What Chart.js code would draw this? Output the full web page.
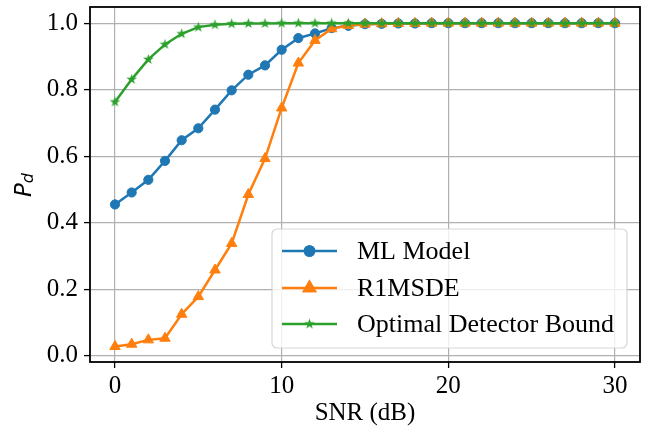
<!DOCTYPE html>
<html>
<head>
<meta charset="utf-8">
<script src="https://cdn.jsdelivr.net/npm/chart.js@4.4.1/dist/chart.umd.min.js"></script>
<style>
  html, body { margin: 0; padding: 0; background: #fff; }
</style>
</head>
<body>
<canvas id="pdChart" width="654" height="432"></canvas>
<script>
var snr = [0, 1, 2, 3, 4, 5, 6, 7, 8, 9, 10, 11, 12, 13, 14, 15, 16, 17, 18, 19, 20, 21, 22, 23, 24, 25, 26, 27, 28, 29, 30];
var mlModel = [0.455, 0.491, 0.529, 0.586, 0.648, 0.684, 0.740, 0.798, 0.845, 0.873, 0.920, 0.955, 0.969, 0.985, 0.992,
               0.997, 0.998, 0.999, 0.999, 1, 1, 1, 1, 1, 1, 1, 1, 1, 1, 1, 1];
var r1msde = [0.028, 0.035, 0.048, 0.053, 0.125, 0.178, 0.258, 0.338, 0.485, 0.593, 0.745, 0.880, 0.948, 0.983, 0.993,
              0.997, 0.998, 0.999, 0.999, 1, 1, 1, 1, 1, 1, 1, 1, 1, 1, 1, 1];
var optBound = [0.763, 0.831, 0.891, 0.936, 0.968, 0.988, 0.995, 0.998, 0.999, 0.999,
                1, 1, 1, 1, 1, 1, 1, 1, 1, 1, 1, 1, 1, 1, 1, 1, 1, 1, 1, 1, 1];
var seriesNames = ["ML Model", "R1MSDE", "Optimal Detector Bound"];
var xTicks = [0, 10, 20, 30];
var yTicks = [0.0, 0.2, 0.4, 0.6, 0.8, 1.0];

var serif = "'Liberation Serif', 'Times New Roman', serif";

// filled five point star, like matplotlib's '*' marker
function makeStar(color) {
    var c = document.createElement('canvas');
    c.width = 13; c.height = 13;
    var g = c.getContext('2d');
    g.fillStyle = color;
    g.beginPath();
    for (var i = 0; i < 10; i++) {
        var r = (i % 2 === 0) ? 5.6 : 2.2;
        var a = -Math.PI / 2 + i * Math.PI / 5;
        g.lineTo(6.5 + r * Math.cos(a), 6.5 + r * Math.sin(a));
    }
    g.closePath();
    g.fill();
    return c;
}
var starImg = makeStar('#2ca02c');

function toPoints(ys) {
    return snr.map(function (x, i) { return {x: x, y: ys[i]}; });
}

var frameBox = {
    id: 'frameBox',
    afterDatasetsDraw: function (chart) {
        var a = chart.chartArea, ctx = chart.ctx;
        ctx.save();
        ctx.strokeStyle = '#000';
        ctx.lineWidth = 1.8;
        ctx.strokeRect(a.left, a.top, a.right - a.left, a.bottom - a.top);
        ctx.restore();
    }
};

var yLabel = {
    id: 'yLabel',
    afterDraw: function (chart) {
        var ctx = chart.ctx;
        ctx.save();
        ctx.translate(31, 185);
        ctx.rotate(-Math.PI / 2);
        ctx.fillStyle = '#000';
        ctx.textBaseline = 'alphabetic';
        ctx.font = "italic 23px 'DejaVu Sans'";
        var wP = ctx.measureText('P').width;
        ctx.font = "italic 16px 'DejaVu Sans'";
        var wd = ctx.measureText('d').width;
        var x0 = -(wP + wd) / 2;
        ctx.font = "italic 23px 'DejaVu Sans'";
        ctx.fillText('P', x0, 0);
        ctx.font = "italic 16px 'DejaVu Sans'";
        ctx.fillText('d', x0 + wP, 2);
        ctx.restore();
    }
};

var boxLegend = {
    id: 'boxLegend',
    afterDraw: function (chart) {
        var ctx = chart.ctx;
        var bx = 272, by = 229, bw = 355, bh = 119, r = 5;
        ctx.save();
        ctx.beginPath();
        ctx.moveTo(bx + r, by);
        ctx.arcTo(bx + bw, by, bx + bw, by + bh, r);
        ctx.arcTo(bx + bw, by + bh, bx, by + bh, r);
        ctx.arcTo(bx, by + bh, bx, by, r);
        ctx.arcTo(bx, by, bx + bw, by, r);
        ctx.closePath();
        ctx.fillStyle = 'rgba(255,255,255,0.8)';
        ctx.fill();
        ctx.strokeStyle = 'rgba(204,204,204,0.8)';
        ctx.lineWidth = 1.2;
        ctx.stroke();

        var rows = [251, 288, 324];
        chart.data.datasets.forEach(function (ds, i) {
            var y = rows[i];
            ctx.strokeStyle = ds.borderColor;
            ctx.lineWidth = ds.borderWidth;
            ctx.beginPath();
            ctx.moveTo(282, y);
            ctx.lineTo(337, y);
            ctx.stroke();
            Chart.helpers.drawPoint(ctx, {
                pointStyle: ds.pointStyle,
                radius: ds.pointRadius,
                borderWidth: ds.pointBorderWidth,
                rotation: 0
            }, 309.5, y);
            ctx.fillStyle = ds.pointBackgroundColor;
            ctx.strokeStyle = ds.borderColor;
            if (ds.pointStyle !== starImg) {
                ctx.fill();
                ctx.stroke();
            }
            ctx.fillStyle = '#000';
            ctx.font = '26px ' + serif;
            ctx.textBaseline = 'middle';
            ctx.fillText(ds.label, 357, y + 1);
        });
        ctx.restore();
    }
};

var pdChart = new Chart(document.getElementById('pdChart').getContext('2d'), {
    type: 'line',
    data: {
        datasets: [{
            label: seriesNames[0],
            data: toPoints(mlModel),
            borderColor: '#1f77b4',
            backgroundColor: '#1f77b4',
            pointBackgroundColor: '#1f77b4',
            pointBorderColor: '#1f77b4',
            borderWidth: 2.5,
            pointStyle: 'circle',
            pointRadius: 4.6,
            pointBorderWidth: 1,
            order: 3,
            fill: false
        }, {
            label: seriesNames[1],
            data: toPoints(r1msde),
            borderColor: '#ff7f0e',
            backgroundColor: '#ff7f0e',
            pointBackgroundColor: '#ff7f0e',
            pointBorderColor: '#ff7f0e',
            borderWidth: 2.5,
            pointStyle: 'triangle',
            pointRadius: 6,
            pointBorderWidth: 1,
            order: 2,
            fill: false
        }, {
            label: seriesNames[2],
            data: toPoints(optBound),
            borderColor: '#2ca02c',
            backgroundColor: '#2ca02c',
            pointBackgroundColor: '#2ca02c',
            pointBorderColor: '#2ca02c',
            borderWidth: 2.5,
            pointStyle: starImg,
            pointRadius: 5,
            pointBorderWidth: 0,
            order: 1,
            fill: false
        }]
    },
    options: {
        responsive: false,
        animation: false,
        devicePixelRatio: 1,
        layout: { padding: { left: 0, right: 14, top: 5, bottom: 0 } },
        plugins: {
            legend: { display: false },
            tooltip: { enabled: false },
            title: { display: false }
        },
        scales: {
            x: {
                type: 'linear',
                min: -1.5,
                max: 31.5,
                afterBuildTicks: function (s) { s.ticks = xTicks.map(function (v) { return {value: v}; }); },
                afterFit: function (s) { s.height = 70; s.paddingLeft = 0; s.paddingRight = 0; },
                border: { display: false },
                grid: { color: '#b0b0b0', lineWidth: 1.2, tickColor: '#000', tickLength: 6, tickWidth: 1.3 },
                ticks: {
                    color: '#000',
                    font: { family: serif, size: 25 },
                    padding: 3,
                    maxRotation: 0,
                    callback: function (v) { return String(v); }
                },
                title: {
                    display: true,
                    text: 'SNR (dB)',
                    color: '#000',
                    font: { family: serif, size: 25 },
                    padding: { top: 0, bottom: 4 }
                }
            },
            y: {
                type: 'linear',
                min: -0.0185,
                max: 1.0485,
                afterBuildTicks: function (s) { s.ticks = yTicks.map(function (v) { return {value: v}; }); },
                afterFit: function (s) { s.width = 90; s.paddingTop = 0; s.paddingBottom = 0; },
                border: { display: false },
                grid: { color: '#b0b0b0', lineWidth: 1.2, tickColor: '#000', tickLength: 6, tickWidth: 1.3 },
                ticks: {
                    color: '#000',
                    font: { family: serif, size: 25 },
                    padding: 6,
                    callback: function (v) { return v.toFixed(1); }
                }
            }
        }
    },
    plugins: [frameBox, yLabel, boxLegend]
});
</script>
</body>
</html>
